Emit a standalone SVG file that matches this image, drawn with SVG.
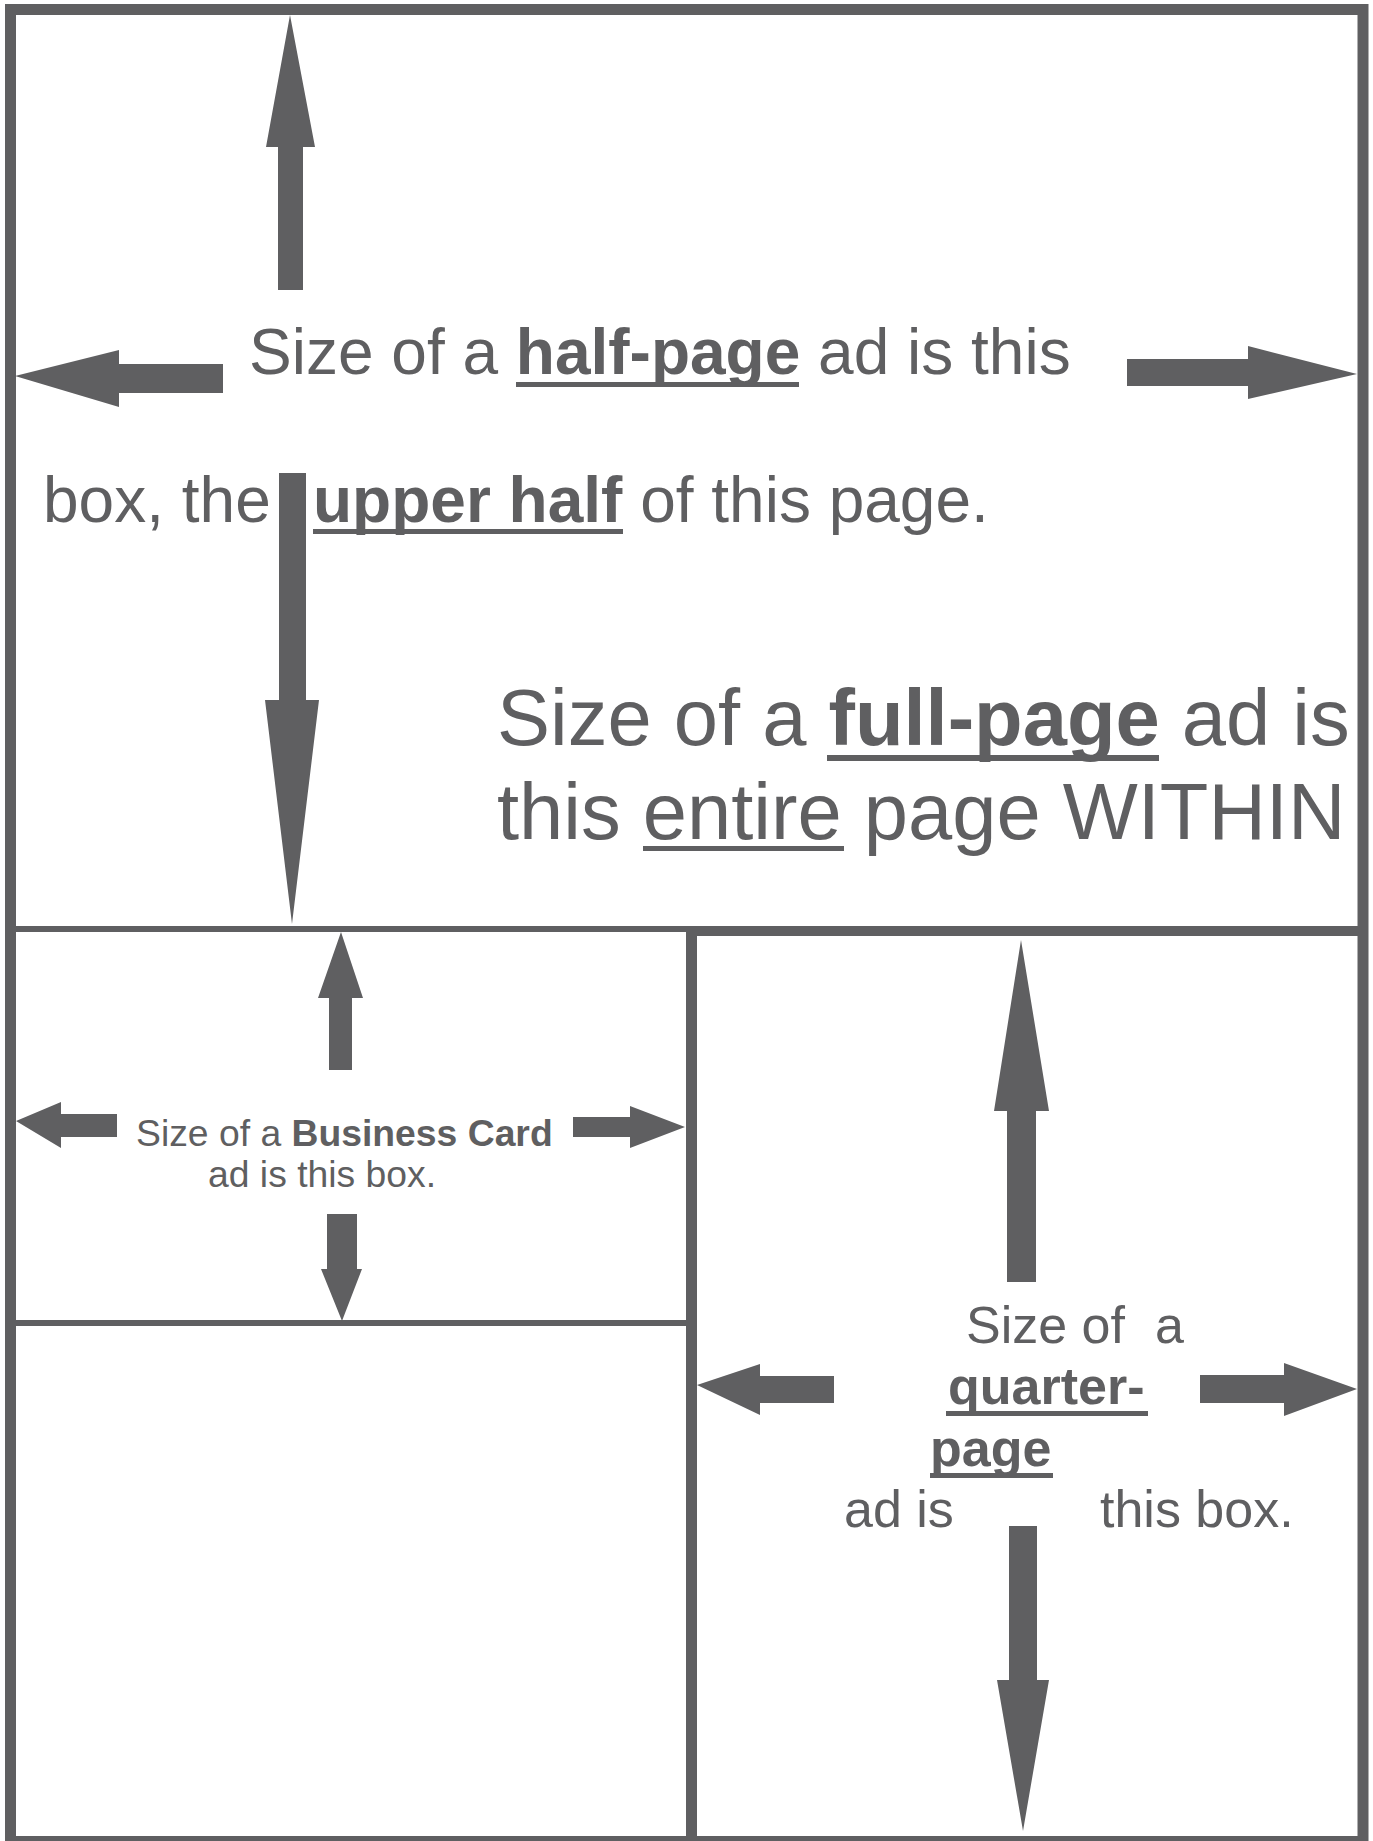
<svg xmlns="http://www.w3.org/2000/svg" width="1373" height="1841" viewBox="0 0 1373 1841">
<style>
.ln{fill:#5f5f61;stroke:none}
.ar{fill:#5f5f61;stroke:none}
.t{font-family:"Liberation Sans",Arial,sans-serif;fill:#5f5f61}
.b{font-weight:bold}
</style>
<rect width="1373" height="1841" fill="#ffffff"/>
<g id="frame">
<rect x="10.5" y="9.5" width="1352.5" height="1832" fill="none" stroke="#5f5f61" stroke-width="11"/>
<rect class="ln" x="16" y="926" width="670" height="6"/>
<rect class="ln" x="686" y="926" width="672" height="10"/>
<rect class="ln" x="686" y="926" width="11" height="915"/>
<rect class="ln" x="16" y="1320" width="670" height="6"/>
</g>
<g id="connectors">
<polygon class="ar" points="290,15 315,147 303,147 303,290 278,290 278,147 266,147"/>
<polygon class="ar" points="15,376 119,350 119,364 223,364 223,393 119,393 119,407"/>
<polygon class="ar" points="1127,359 1248,359 1248,346 1357,374 1248,399 1248,386 1127,386"/>
<polygon class="ar" points="279,473 306,473 306,700 319,700 292,924 265,700 279,700"/>
<polygon class="ar" points="341,932 363,998 352,998 352,1070 329,1070 329,998 318,998"/>
<polygon class="ar" points="16,1121 61,1102 61,1114 117,1114 117,1137 61,1137 61,1148"/>
<polygon class="ar" points="573,1117 630,1117 630,1106 685,1127 630,1148 630,1137 573,1137"/>
<polygon class="ar" points="327,1214 357,1214 357,1269 362,1269 342,1321 321,1269 327,1269"/>
<polygon class="ar" points="1021,940 1049,1111 1036,1111 1036,1282 1007,1282 1007,1111 994,1111"/>
<polygon class="ar" points="1009,1526 1037,1526 1037,1680 1049,1680 1023,1831 997,1680 1009,1680"/>
<polygon class="ar" points="697,1385 760,1364 760,1376 834,1376 834,1403 760,1403 760,1415"/>
<polygon class="ar" points="1200,1375 1284,1375 1284,1363 1357,1389 1284,1416 1284,1403 1200,1403"/>
</g>
<g id="half-page">
<text class="t" x="249" y="374" font-size="64">Size of a <tspan class="b">half-page</tspan> ad is this</text>
<rect class="ln" x="516" y="382" width="283" height="5"/>
<text class="t" x="43" y="522" font-size="64">box, the</text>
<text class="t" x="313" y="522" font-size="64"><tspan class="b">upper half</tspan> of this page.</text>
<rect class="ln" x="313" y="529" width="310" height="5"/>
</g>
<g id="full-page">
<text class="t" x="497" y="745" font-size="79.5">Size of a <tspan class="b">full-page</tspan> ad is</text>
<rect class="ln" x="827" y="755" width="332" height="6"/>
<text class="t" x="497" y="839" font-size="79.5">this entire page WITHIN</text>
<rect class="ln" x="643" y="846" width="201" height="5"/>
</g>
<g id="business-card">
<text class="t" x="136" y="1146" font-size="37.3">Size of a <tspan class="b">Business Card</tspan></text>
<text class="t" x="208" y="1187" font-size="37.3">ad is this box.</text>
</g>
<g id="quarter-page">
<text class="t" x="966" y="1343" font-size="52">Size of<tspan x="1155">a</tspan></text>
<text class="t b" x="948" y="1404" font-size="52">quarter-</text>
<rect class="ln" x="946" y="1411" width="202" height="5"/>
<text class="t b" x="930" y="1466" font-size="52">page</text>
<rect class="ln" x="930" y="1473" width="123" height="5"/>
<text class="t" x="844" y="1527" font-size="52">ad is</text>
<text class="t" x="1100" y="1527" font-size="52">this box.</text>
</g>
</svg>
